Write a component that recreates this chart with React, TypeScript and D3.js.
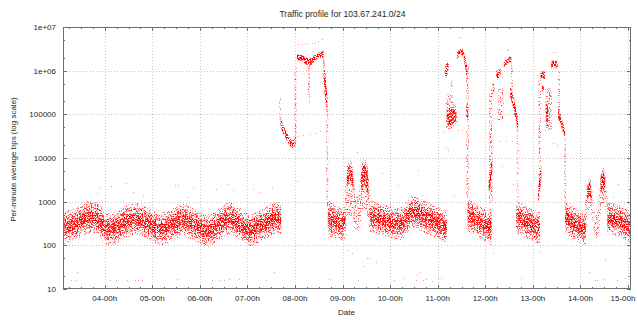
import React from 'react';
import * as d3 from 'd3';

type Row = [number, number, number];
type Pt = [number, number];

// ---- axis data ----
const hourTicks = [4, 5, 6, 7, 8, 9, 10, 11, 12, 13, 14, 15];
const hourLabels = ['04-00h', '05-00h', '06-00h', '07-00h', '08-00h', '09-00h', '10-00h', '11-00h', '12-00h', '13-00h', '14-00h', '15-00h'];
const decadeTicks = [10, 100, 1000, 10000, 100000, 1000000, 10000000];
const decadeLabels = ['10', '100', '1000', '10000', '100000', '1e+06', '1e+07'];
const timeDomain = [3.123, 15.063];

// ---- baseline clouds: [hour, low bps, high bps] ----
const cloudA: Row[] = [[3.12, 107, 580], [3.38, 132, 716], [3.69, 191, 1030], [3.84, 182, 975], [4.05, 102, 550], [4.22, 107, 580], [4.43, 147, 800], [4.68, 172, 920], [4.91, 140, 760], [5.16, 102, 550], [5.37, 119, 645], [5.65, 164, 885], [5.9, 125, 680], [6.15, 92, 495], [6.38, 125, 680], [6.63, 182, 975], [6.84, 132, 716], [7.05, 97, 521], [7.31, 125, 680], [7.62, 182, 975], [7.71, 172, 920]];
const cloudC1: Row[] = [[8.69, 150, 1200], [8.8, 150, 900], [8.9, 140, 800], [9.0, 130, 720], [9.06, 150, 800]];
const cloudC2: Row[] = [[9.57, 200, 1100], [9.64, 191, 1030], [10.0, 147, 800], [10.2, 132, 716], [10.48, 249, 1340], [10.73, 191, 1030], [10.94, 155, 840], [11.15, 119, 645], [11.19, 120, 660]];
const cloudD: Row[] = [[11.63, 200, 1300], [11.75, 180, 1000], [11.9, 140, 750], [12.03, 120, 650], [12.13, 100, 700]];
const cloudE: Row[] = [[12.65, 191, 1030], [12.8, 164, 885], [12.95, 130, 720], [13.1, 110, 610], [13.15, 110, 620]];
const cloudF: Row[] = [[13.68, 200, 1100], [13.85, 140, 760], [14.02, 110, 600], [14.11, 100, 560]];
const cloudG: Row[] = [[14.57, 182, 975], [14.75, 164, 885], [14.9, 140, 760], [15.07, 107, 580]];

// ---- dense clumps ----
const spike1Fall: Row[] = [[7.7, 5.0e4, 8.2e4], [7.76, 3.5e4, 5.5e4], [7.82, 2.7e4, 4.0e4], [7.88, 2.0e4, 3.0e4], [7.94, 1.7e4, 2.5e4], [7.99, 1.8e4, 3.0e4]];
const spike1Top: Row[] = [[8.04, 1.7e6, 2.3e6], [8.14, 1.7e6, 2.3e6], [8.22, 1.4e6, 2.0e6], [8.32, 1.3e6, 1.9e6], [8.4, 1.6e6, 2.2e6], [8.48, 1.9e6, 2.5e6], [8.57, 2.0e6, 2.8e6], [8.6, 1.8e6, 2.8e6]];
const spike1Drop: Row[] = [[8.6, 6e5, 2.5e6], [8.64, 2e5, 8e5], [8.68, 9e4, 2.5e5]];
const bumpC1: Row[] = [[9.09, 2000, 4000], [9.13, 3000, 6500], [9.18, 3000, 6500], [9.23, 1500, 3500]];
const bumpC2: Row[] = [[9.39, 1500, 4000], [9.44, 2500, 7000], [9.49, 2000, 6500], [9.54, 1000, 3000]];
const spike2Low: Row[] = [[11.19, 6e4, 1.3e5], [11.25, 5.5e4, 1.4e5], [11.32, 6e4, 1.3e5], [11.38, 7e4, 1.2e5]];
const spike2High: Row[] = [[11.15, 7e5, 1.0e6], [11.19, 7.5e5, 1.6e6], [11.23, 1.1e6, 1.6e6]];
const spike2Peak: Row[] = [[11.41, 1.8e6, 2.6e6], [11.46, 2.2e6, 3.0e6], [11.51, 2.3e6, 3.2e6], [11.55, 1.7e6, 2.6e6], [11.59, 1.0e6, 1.8e6], [11.62, 6e5, 1.3e6]];
const spike2Tail: Row[] = [[11.6, 9e4, 1.7e5], [11.64, 8e4, 1.5e5]];
const spike3Rise: Row[] = [[12.07, 1500, 3000], [12.11, 2500, 6000], [12.15, 5000, 10000]];
const spike3A: Row[] = [[12.15, 3e5, 5e5], [12.19, 3e5, 5e5]];
const spike3B: Row[] = [[12.23, 6e5, 1e6], [12.32, 7e5, 1.1e6]];
const spike3Top: Row[] = [[12.39, 1.2e6, 1.6e6], [12.46, 1.4e6, 1.9e6], [12.52, 1.6e6, 2.1e6], [12.55, 1.3e6, 2.0e6]];
const spike3Fall: Row[] = [[12.52, 2.5e5, 4.5e5], [12.58, 1.5e5, 3e5], [12.63, 8e4, 1.6e5], [12.69, 4.5e4, 8e4]];
const spike4Rise: Row[] = [[13.11, 900, 2000], [13.14, 1500, 4000], [13.18, 3000, 7000]];
const spike4A: Row[] = [[13.16, 6.5e5, 9.5e5], [13.26, 6.5e5, 9.5e5]];
const spike4B: Row[] = [[13.19, 3.4e5, 4.5e5], [13.23, 3.4e5, 4.5e5]];
const spike4C: Row[] = [[13.27, 7e4, 2e5], [13.32, 5e4, 1.5e5]];
const spike4Top: Row[] = [[13.38, 1.1e6, 1.6e6], [13.45, 1.2e6, 1.7e6], [13.52, 1.1e6, 1.6e6]];
const spike4Fall: Row[] = [[13.53, 8e4, 1.4e5], [13.58, 6e4, 1e5], [13.63, 4e4, 6.5e4], [13.68, 2.5e4, 4e4]];
const bumpG1: Row[] = [[14.14, 1100, 2200], [14.19, 1300, 2800], [14.23, 1000, 2200]];
const bumpG2: Row[] = [[14.42, 1500, 3500], [14.47, 2000, 5000], [14.52, 1200, 3500]];

// ---- sparse streaks ----
const spike1Lead: Row[] = [[7.67, 6e4, 2.5e5], [7.71, 6e4, 2.5e5]];
const spike1Rise: Row[] = [[7.99, 1.8e4, 1.0e6], [8.03, 2.0e4, 1.2e6]];
const spike1Dip: Row[] = [[8.27, 1.8e5, 1.4e6], [8.31, 1.8e5, 1.4e6]];
const spike1Down: Row[] = [[8.66, 800, 1.2e5], [8.7, 800, 1.2e5]];
const bumpSparseC: Row[] = [[9.05, 200, 1500], [9.1, 400, 7000], [9.15, 500, 9000], [9.2, 400, 7500], [9.25, 250, 2500], [9.29, 200, 1300], [9.33, 200, 1300], [9.37, 250, 3000], [9.41, 500, 7000], [9.45, 700, 9500], [9.5, 600, 8500], [9.55, 300, 3500], [9.59, 200, 1200]];
const spike2Cloud: Row[] = [[11.17, 5e4, 3e5], [11.25, 4.5e4, 3e5], [11.33, 5e4, 2e5], [11.41, 6e4, 1.5e5]];
const spike2Streak: Row[] = [[11.27, 5e4, 6e5], [11.31, 5e4, 6e5]];
const spike2Down: Row[] = [[11.6, 1300, 1.3e6], [11.65, 1300, 1.3e6]];
const spike3Up: Row[] = [[12.08, 800, 3e5], [12.15, 1000, 4e5]];
const spike3Mid: Row[] = [[12.26, 7e4, 4e5], [12.38, 7e4, 4e5]];
const spike3Side: Row[] = [[12.54, 4e5, 1.3e6], [12.58, 4e5, 1.3e6]];
const spike3Down: Row[] = [[12.66, 1500, 5e4], [12.7, 1000, 5e4]];
const spike4Up: Row[] = [[13.12, 900, 6e5], [13.17, 2000, 6e5]];
const spike4Mid: Row[] = [[13.27, 4.4e4, 4e5], [13.4, 4.4e4, 4e5]];
const spike4Side: Row[] = [[13.53, 1e5, 1e6], [13.57, 1e5, 1e6]];
const spike4Down: Row[] = [[13.66, 1000, 3e4], [13.7, 1000, 3e4]];
const bumpSparseG: Row[] = [[14.1, 150, 800], [14.14, 400, 2700], [14.19, 700, 3300], [14.24, 500, 2600], [14.27, 200, 1000], [14.3, 150, 600], [14.36, 150, 600], [14.39, 200, 1500], [14.44, 700, 5200], [14.49, 900, 5800], [14.53, 600, 3700], [14.57, 250, 1200]];

// ---- isolated points: [hour, bps] ----
const lowOutliers: Pt[] = [[3.29, 16], [3.37, 16], [3.42, 24], [4.12, 16], [4.24, 16], [4.46, 16], [4.63, 16], [4.7, 16], [4.78, 16], [5.51, 17], [6.26, 16], [6.41, 16], [6.5, 16], [6.61, 17], [6.83, 17], [7.38, 16], [7.55, 24], [8.71, 17], [9.32, 16], [9.42, 34], [9.55, 50], [9.71, 41], [10.09, 16], [10.3, 18], [10.54, 16], [10.57, 22], [10.62, 24], [10.7, 16], [10.75, 17], [10.88, 15], [11.01, 18], [11.07, 18], [12.75, 18], [14.18, 25], [14.31, 16], [14.35, 16], [14.48, 17], [14.52, 49], [14.76, 16], [14.93, 18], [9.12, 78], [9.19, 66], [9.51, 50], [12.17, 66], [13.15, 71]];
const midOutliers: Pt[] = [[3.9, 2200], [3.84, 1580], [4.13, 2300], [4.45, 2700], [4.59, 1700], [4.8, 1400], [5.48, 2400], [5.55, 2400], [5.72, 1300], [5.86, 2200], [6.34, 1950], [6.56, 2500], [6.7, 1850], [7.12, 2000], [7.26, 1700], [7.51, 2200], [8.04, 2900], [8.98, 22400], [9.3, 13900], [10.59, 5300], [9.82, 4500], [10.17, 2400], [10.66, 1400], [11.34, 1370], [11.22, 15000], [11.12, 40000], [11.42, 44000], [11.5, 44000], [11.17, 16700], [11.64, 26000], [12.31, 24000], [12.44, 24000], [12.56, 24000], [12.59, 2600], [12.35, 6600], [13.26, 44000], [13.43, 22000], [13.5, 20000], [13.66, 11700], [14.8, 2600], [14.69, 1300], [8.07, 3.2e4], [8.17, 3.3e4], [8.32, 3.5e4], [8.42, 3.7e4], [8.53, 4.2e4]];
const highOutliers: Pt[] = [[11.49, 5.5e6], [11.45, 6e6], [12.45, 3e6], [12.48, 3.2e6], [13.42, 2.7e6], [13.47, 2.7e6], [8.07, 4.0e6], [8.14, 4.1e6], [8.21, 4.1e6], [8.28, 4.2e6], [8.35, 4.4e6], [8.42, 4.6e6], [8.49, 4.85e6], [8.56, 5.2e6]];

const cloudBands = [cloudA, cloudC1, cloudC2, cloudD, cloudE, cloudF, cloudG];
const denseBands = [spike1Fall, spike1Top, spike1Drop, bumpC1, bumpC2, spike2Low, spike2High, spike2Peak, spike2Tail, spike3Rise, spike3A, spike3B, spike3Top, spike3Fall, spike4Rise, spike4A, spike4B, spike4C, spike4Top, spike4Fall, bumpG1, bumpG2];
const sparseBands = [spike1Lead, spike1Rise, spike1Dip, spike1Down, bumpSparseC, spike2Cloud, spike2Streak, spike2Down, spike3Up, spike3Mid, spike3Side, spike3Down, spike4Up, spike4Mid, spike4Side, spike4Down, bumpSparseG];

const W = 638;
const H = 320;
const L = 63, R = 631, T = 27, B = 289;
const AXIS = '#6e6e6e';
const GRID = '#c4c4c4';
const TEXT = '#262626';
const FONT = "'Liberation Sans', Arial, sans-serif";

function Speckle({ id, seed, freq, gain, bias, table }: { id: string; seed: number; freq: number; gain: number; bias: number; table: string }) {
  return (
    <filter id={id} filterUnits="userSpaceOnUse" x={0} y={0} width={W} height={H} colorInterpolationFilters="sRGB">
      <feTurbulence type="fractalNoise" baseFrequency={freq} numOctaves={2} seed={seed} result="noise" />
      <feColorMatrix in="noise" type="matrix" values={`0 0 0 0 1  0 0 0 0 0  0 0 0 0 0  ${gain} 0 0 0 ${bias}`} result="col" />
      <feComponentTransfer in="col" result="dots">
        <feFuncA type="discrete" tableValues={table} />
      </feComponentTransfer>
      <feComposite in="dots" in2="SourceAlpha" operator="in" />
    </filter>
  );
}

export default function App() {
  const x = d3.scaleLinear().domain(timeDomain).range([L, R]);
  const y = d3.scaleLog().domain([10, 1e7]).range([B, T]);

  const band = d3.area<Row>().x(d => x(d[0])).y0(d => y(d[1])).y1(d => y(d[2])).curve(d3.curveMonotoneX);
  const inner = (k: number) => d3.area<Row>()
    .x(d => x(d[0]))
    .y0(d => { const a = y(d[1]); const b = y(d[2]); return a + (b - a) * k; })
    .y1(d => { const a = y(d[1]); const b = y(d[2]); return b - (b - a) * k; })
    .curve(d3.curveMonotoneX);
  const mid = inner(0.16);
  const core = inner(0.33);

  const minorHours = d3.range(13, 61).map(q => q / 4).filter(h => h % 1 !== 0);
  const minorVals: number[] = [];
  decadeTicks.slice(0, -1).forEach(dv => { minorVals.push(dv * 2, dv * 5); });

  return (
    <svg width={W} height={H} viewBox={`0 0 ${W} ${H}`} style={{ position: 'absolute', left: 0, top: 0, background: '#fff' }} fontFamily={FONT}>
      <defs>
        <clipPath id="plotClip">
          <rect x={L + 1} y={T + 1} width={R - L - 2} height={B - T - 2} />
        </clipPath>
        <Speckle id="spSparse" seed={11} freq={0.83} gain={5} bias={-2.5} table="0 0.25 0.45 0.7" />
        <Speckle id="spMid" seed={23} freq={0.83} gain={5} bias={-2.35} table="0 0.3 0.55 0.85" />
        <Speckle id="spCore" seed={5} freq={0.83} gain={5} bias={-2.2} table="0 0.4 0.8 1" />
        <Speckle id="spDense" seed={3} freq={0.83} gain={5} bias={-2.0} table="0 0.45 0.85 1" />
      </defs>
      <rect x={0} y={0} width={W} height={H} fill="#fff" />

      {/* grid */}
      <g stroke={GRID} strokeWidth={1} strokeDasharray="1,2">
        {hourTicks.map(h => (
          <line key={'gx' + h} x1={Math.round(x(h)) + 0.5} x2={Math.round(x(h)) + 0.5} y1={T} y2={B} />
        ))}
        {decadeTicks.slice(1, -1).map(v => (
          <line key={'gy' + v} x1={L} x2={R} y1={Math.round(y(v)) + 0.5} y2={Math.round(y(v)) + 0.5} />
        ))}
      </g>

      {/* data */}
      <g clipPath="url(#plotClip)">
        <g filter="url(#spSparse)">
          {cloudBands.map((b, i) => <path key={'cb' + i} d={band(b) || ''} fill="#000" />)}
          {sparseBands.map((b, i) => <path key={'sb' + i} d={band(b) || ''} fill="#000" />)}
        </g>
        <g filter="url(#spMid)">
          {cloudBands.map((b, i) => <path key={'cm' + i} d={mid(b) || ''} fill="#000" />)}
        </g>
        <g filter="url(#spCore)">
          {cloudBands.map((b, i) => <path key={'cc' + i} d={core(b) || ''} fill="#000" />)}
        </g>
        <g filter="url(#spDense)">
          {denseBands.map((b, i) => <path key={'db' + i} d={band(b) || ''} fill="#000" />)}
        </g>
        <g fill="#ff0000" fillOpacity={0.4}>
          {[...lowOutliers, ...midOutliers, ...highOutliers].map((p, i) => (
            <rect key={'o' + i} x={Math.round(x(p[0]))} y={Math.round(y(p[1]))} width={1} height={1} />
          ))}
        </g>
      </g>

      {/* ticks */}
      <g stroke={AXIS} strokeWidth={1}>
        {hourTicks.map(h => {
          const px = Math.round(x(h)) + 0.5;
          return (
            <g key={'tx' + h}>
              <line x1={px} x2={px} y1={B} y2={B - 4} />
              <line x1={px} x2={px} y1={T} y2={T + 4} />
            </g>
          );
        })}
        {minorHours.map(h => {
          const px = Math.round(x(h)) + 0.5;
          return (
            <g key={'mx' + h}>
              <line x1={px} x2={px} y1={B} y2={B - 2} />
              <line x1={px} x2={px} y1={T} y2={T + 2} />
            </g>
          );
        })}
        {decadeTicks.map(v => {
          const py = Math.round(y(v)) + 0.5;
          return (
            <g key={'ty' + v}>
              <line x1={L} x2={L + 4} y1={py} y2={py} />
              <line x1={R} x2={R - 4} y1={py} y2={py} />
            </g>
          );
        })}
        {minorVals.map(v => {
          const py = Math.round(y(v)) + 0.5;
          return (
            <g key={'my' + v}>
              <line x1={L} x2={L + 2} y1={py} y2={py} />
              <line x1={R} x2={R - 2} y1={py} y2={py} />
            </g>
          );
        })}
      </g>

      {/* frame */}
      <rect x={L + 0.5} y={T + 0.5} width={R - L - 1} height={B - T - 1} fill="none" stroke={AXIS} strokeWidth={1} />

      {/* tick labels */}
      <g fill={TEXT} fontSize={8}>
        {hourTicks.map((h, i) => (
          <text key={'lx' + h} x={Math.min(x(h), W - 15)} y={301} textAnchor="middle">{hourLabels[i]}</text>
        ))}
        {decadeTicks.map((v, i) => (
          <text key={'ly' + v} x={56} y={y(v) + 3} textAnchor="end">{decadeLabels[i]}</text>
        ))}
      </g>

      {/* titles */}
      <text x={342.5} y={17} textAnchor="middle" fontSize={8.6} fill={TEXT}>Traffic profile for 103.67.241.0/24</text>
      <text x={346.5} y={315} textAnchor="middle" fontSize={8} fill={TEXT}>Date</text>
      <text transform="translate(16,159.5) rotate(-90)" textAnchor="middle" fontSize={8} fill={TEXT}>Per-minute average bps (log scale)</text>
    </svg>
  );
}
